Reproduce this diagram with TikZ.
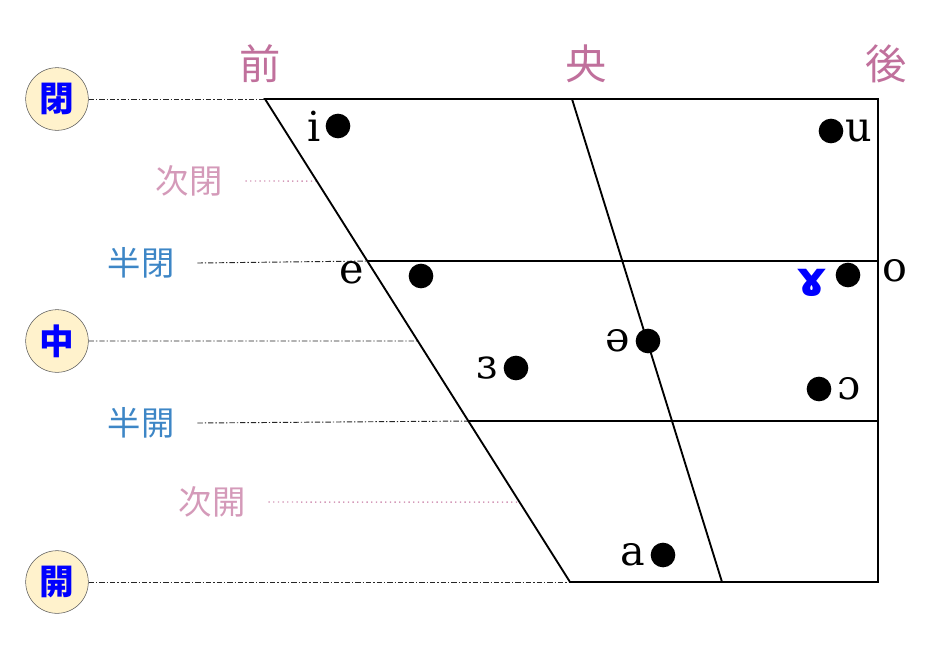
\documentclass[tikz,border=0pt]{standalone}
\usepackage{fontspec}
\setmainfont{DejaVu Serif}
\newfontfamily\jpfont{Noto Sans CJK JP}
\newfontfamily\ipasans{DejaVu Sans}
\usepackage{tikz}
\usetikzlibrary{positioning,calc}

\definecolor{cream}{HTML}{FFF2CC}
\definecolor{mauve}{HTML}{C0709C}
\definecolor{lightmauve}{HTML}{D49AB9}
\definecolor{steel}{HTML}{3D86C6}

\tikzset{
  vowel/.style={circle,fill=black,inner sep=0pt,minimum size=18.5pt},
  ipa/.style={inner sep=1pt,font=\fontsize{31}{31}\selectfont},
  level/.style={circle,draw=gray!70!black,fill=cream,minimum size=47pt,inner sep=0pt,
    text=blue,font=\jpfont\bfseries\fontsize{26}{26}\selectfont},
  header/.style={text=mauve,font=\jpfont\fontsize{31}{31}\selectfont},
  midlabel/.style={text=steel,outer xsep=14pt,font=\jpfont\fontsize{25}{25}\selectfont},
  sublabel/.style={text=lightmauve,outer xsep=14pt,font=\jpfont\fontsize{25}{25}\selectfont},
  guide/.style={gray!30!black,line width=0.7pt,dash pattern=on 4pt off 1.5pt on 1pt off 1.5pt},
  subguide/.style={lightmauve,line width=1.1pt,dash pattern=on 1pt off 2.5pt},
  edge/.style={line width=1.4pt}
}

\begin{document}
\begin{tikzpicture}[x=0.75pt,y=-0.75pt]
\useasboundingbox (0,0) rectangle (927,662);

%% corners of the chart
\coordinate (TL) at (265,99);
\coordinate (TC) at (572,99);
\coordinate (TR) at (878,99);
\coordinate (BL) at (570,582);
\coordinate (BC) at (722,582);
\coordinate (BR) at (878,582);
\coordinate (HCL) at ($(TL)!0.3354!(BL)$);
\coordinate (HCR) at (878,261);
\coordinate (HOL) at ($(TL)!0.6667!(BL)$);
\coordinate (HOR) at (878,421);
\coordinate (MID) at ($(TL)!0.501!(BL)$);
\coordinate (NCL) at ($(TL)!0.1698!(BL)$);
\coordinate (NOL) at ($(TL)!0.8344!(BL)$);

%% column headers
\node[header] (front) at (260,64) {前};
\node[header] (central) at (586,64) {央};
\node[header] (back) at (886,64) {後};

%% height labels
\node[level] (close) at (57,99) {閉};
\node[level] (mid) at (57,341) {中};
\node[level] (open) at (57,582) {開};
\node[midlabel] (halfclose) at (141,263) {半閉};
\node[midlabel] (halfopen) at (141,423) {半開};
\node[sublabel] (nearclose) at (189,181) {次閉};
\node[sublabel] (nearopen) at (212,502) {次開};

%% guide lines
\draw[guide] (close.east) -- (TL);
\draw[guide] (mid.east) -- (MID);
\draw[guide] (open.east) -- (BL);
\draw[guide] (halfclose.east) -- (HCL);
\draw[guide] (halfopen.east) -- (HOL);
\draw[subguide] (nearclose.east) -- (NCL);
\draw[subguide] (nearopen.east) -- (NOL);

%%% edges
\draw[edge] (TL) -- (TR) -- (BR) -- (BL) -- cycle;
\draw[edge] (TC) -- (BC);
\draw[edge] (HCL) -- (HCR);
\draw[edge] (HOL) -- (HOR);

%% vowels
\node[vowel] (v-i) at (338,126) {};
\node[ipa,left=2pt of v-i] (l-i) {i};
\node[vowel] (v-u) at (831,131) {};
\node[ipa,right=0pt of v-u] (l-u) {u};
\node[vowel] (v-e) at (421,276) {};
\node[ipa] (l-e) at (352,273) {e};
\node[vowel] (v-rh) at (848,275) {};
\node[ipa,text=blue,font=\ipasans\bfseries\fontsize{36}{36}\selectfont] (l-rh) at (812,283) {ɤ};
\node[ipa] (l-o) at (895,271) {o};
\node[vowel] (v-schwa) at (648,341) {};
\node[ipa,left=3pt of v-schwa] (l-schwa) {ə};
\node[vowel] (v-eps) at (516,368) {};
\node[ipa,left=3pt of v-eps] (l-eps) {ɜ};
\node[vowel] (v-oo) at (819,389) {};
\node[ipa,right=3pt of v-oo] (l-oo) {ɔ};
\node[vowel] (v-a) at (663,555) {};
\node[ipa,left=3pt of v-a] (l-a) {a};

\end{tikzpicture}
\end{document}
